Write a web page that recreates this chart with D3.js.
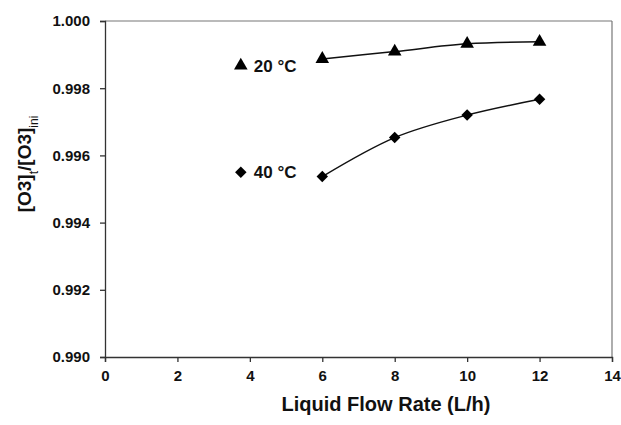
<!DOCTYPE html>
<html>
<head>
<meta charset="utf-8">
<script src="https://d3js.org/d3.v7.min.js"></script>
<style>
  body { margin: 0; background: #fff; }
  text { font-family: "Liberation Sans", Arial, sans-serif; font-weight: bold; fill: #111; }
</style>
</head>
<body>
<svg class="chart" width="621" height="425"></svg>
<script>
// data
const flowRates = [6, 8, 10, 12];
const ratio20 = [0.99887, 0.99909, 0.99932, 0.99938];
const ratio40 = [0.99537, 0.99653, 0.99720, 0.99767];
const xTicks = [0, 2, 4, 6, 8, 10, 12, 14];
const yTicks = [0.990, 0.992, 0.994, 0.996, 0.998, 1.000];

let pLeft = 105, pRight = 612, pTop = 21, pBottom = 357;

let svg = d3.select('.chart');
let xs = d3.scaleLinear().domain([0, 14]).range([pLeft, pRight]);
let ys = d3.scaleLinear().domain([0.990, 1.000]).range([pBottom, pTop]);

// frame top and right
svg.append('line').attr('x1', pLeft).attr('x2', pRight).attr('y1', pTop).attr('y2', pTop)
    .attr('stroke', '#777').attr('stroke-width', 1.2);
svg.append('line').attr('x1', pRight).attr('x2', pRight).attr('y1', pTop).attr('y2', pBottom)
    .attr('stroke', '#777').attr('stroke-width', 1.2);

// axes
let x_axis = d3.axisBottom(xs).tickValues(xTicks).tickSize(5).tickSizeOuter(5).tickPadding(8).tickFormat(d3.format('d'));
let y_axis = d3.axisLeft(ys).tickValues(yTicks).tickSize(5).tickSizeOuter(5).tickPadding(10).tickFormat(d3.format('.3f'));

let gx = svg.append('g').attr('transform', 'translate(0,' + pBottom + ')').call(x_axis);
let gy = svg.append('g').attr('transform', 'translate(' + pLeft + ',0)').call(y_axis);
[gx, gy].forEach(g => {
    g.selectAll('path,line').attr('stroke', '#333').attr('stroke-width', 1.3);
    g.selectAll('text').style('font-size', '15px').style('font-family', '"Liberation Sans", Arial, sans-serif')
        .style('font-weight', 'bold').attr('fill', '#111');
});

// axis titles
svg.append('text').attr('x', 386).attr('y', 411)
    .attr('text-anchor', 'middle').style('font-size', '20px').text('Liquid Flow Rate (L/h)');

let yt = svg.append('text').attr('transform', 'translate(31,164) rotate(-90)')
    .attr('text-anchor', 'middle').style('font-size', '19px');
yt.append('tspan').text('[O3]');
yt.append('tspan').attr('baseline-shift', 'sub').style('font-size', '12px').style('font-weight', 'normal').text('t');
yt.append('tspan').text('/[O3]');
yt.append('tspan').attr('baseline-shift', 'sub').style('font-size', '12px').style('font-weight', 'normal').text('ini');

// series
let line = d3.line().x((d, i) => xs(flowRates[i])).y(d => ys(d)).curve(d3.curveCatmullRom);
let tri = d3.symbol().type(d3.symbolTriangle).size(80);
let dia = d3.symbol().type(d3.symbolSquare).size(66);

[[ratio20, tri, 0], [ratio40, dia, 45]].forEach(([vals, sym, rot]) => {
    svg.append('path').datum(vals).attr('d', line)
        .attr('fill', 'none').attr('stroke', '#111').attr('stroke-width', 1.5);
    svg.selectAll(null).data(vals).enter().append('path')
        .attr('d', sym)
        .attr('transform', (d, i) => 'translate(' + xs(flowRates[i]) + ',' + ys(d) + ') rotate(' + rot + ')')
        .attr('fill', '#000');
});

// legend labels
let legend = [['20 °C', tri, 0, 0.99867], ['40 °C', dia, 45, 0.99550]];
legend.forEach(([label, sym, rot, yv]) => {
    svg.append('path').attr('d', sym)
        .attr('transform', 'translate(' + xs(3.75) + ',' + ys(yv) + ') rotate(' + rot + ')')
        .attr('fill', '#000');
    svg.append('text').attr('x', xs(3.75) + 13).attr('y', ys(yv) + 6)
        .style('font-size', '17px').text(label);
});
</script>
</body>
</html>
